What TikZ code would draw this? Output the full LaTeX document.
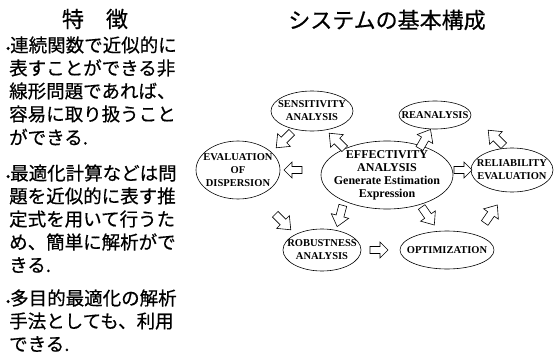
\documentclass[tikz,border=0pt]{standalone}
\usepackage{fontspec}
\setmainfont{Liberation Serif}
\newfontfamily\jp[FakeBold=0.5]{Noto Sans CJK JP}
\usetikzlibrary{shapes.geometric}
\begin{document}
\begin{tikzpicture}[x=1pt,y=1pt,
  ell/.style={draw,ellipse,line width=0.6pt,inner sep=-12pt,align=center,
    font=\bfseries\fontsize{10.5}{13}\selectfont},
  bigtext/.style={font=\bfseries\fontsize{12}{13}\selectfont},
  arrline/.style={draw,fill=white,line width=0.6pt,line join=miter},
  pics/barrow/.style={code={
    \path[arrline] (-11,-4) -- (0,-4) -- (0,-9) -- (11,0) -- (0,9) -- (0,4) -- (-11,4) -- cycle;}},
  pics/sbarrow/.style={code={
    \path[arrline] (-9,-3.5) -- (1,-3.5) -- (1,-8) -- (9,0) -- (1,8) -- (1,3.5) -- (-9,3.5) -- cycle;}},
  jpline/.style={anchor=west,inner sep=0pt,font=\jp\fontsize{18.5}{18.5}\selectfont},
  ttl/.style={inner sep=0pt,font=\jp\fontsize{22}{22}\selectfont}]
\useasboundingbox (0,0) rectangle (558,-359);
% titles
\node[ttl] (t1) at (95,-19) {特　徴};
\node[ttl] (t2) at (387,-20) {システムの基本構成};
% left text
\node[jpline] (l1) at (10,-45) {\llap{\fontsize{12}{12}\selectfont•}連続関数で近似的に};
\node[jpline] (l2) at (9,-68) {表すことができる非};
\node[jpline] (l3) at (9,-91) {線形問題であれば、};
\node[jpline] (l4) at (9,-114) {容易に取り扱うこと};
\node[jpline] (l5) at (9,-137) {ができる.};
\node[jpline] (l6) at (10,-173) {\llap{\fontsize{12}{12}\selectfont•}最適化計算などは問};
\node[jpline] (l7) at (9,-196) {題を近似的に表す推};
\node[jpline] (l8) at (9,-219) {定式を用いて行うた};
\node[jpline] (l9) at (9,-242) {め、簡単に解析がで};
\node[jpline] (l10) at (9,-265) {きる.};
\node[jpline] (l11) at (10,-298) {\llap{\fontsize{12}{12}\selectfont•}多目的最適化の解析};
\node[jpline] (l12) at (9,-321) {手法としても、利用};
\node[jpline] (l13) at (9,-344) {できる.};
% ellipses
\node[ell,minimum width=82pt,minimum height=40pt] (sens) at (312,-111) {SENSITIVITY\\ANALYSIS};
\node[ell,minimum width=72pt,minimum height=28pt] (rean) at (435,-115) {REANALYSIS};
\node[ell,bigtext,minimum width=132pt,minimum height=68pt] (eff) at (387,-175) {EFFECTIVITY\\ANALYSIS\\Generate Estimation\\Expression};
\node[ell,minimum width=84pt,minimum height=58pt] (eval) at (238,-170) {EVALUATION\\OF\\DISPERSION};
\node[ell,minimum width=82pt,minimum height=44pt] (rel) at (512,-170) {RELIABILITY\\EVALUATION};
\node[ell,minimum width=78pt,minimum height=42pt] (rob) at (322,-250) {ROBUSTNESS\\ANALYSIS};
\node[ell,minimum width=94pt,minimum height=38pt] (opt) at (447,-250) {OPTIMIZATION};
% block arrows
\pic[rotate=225] (a1) at (284,-140) {barrow};
\pic[rotate=135] (a2) at (337,-141) {barrow};
\pic[rotate=60] (a3) at (425,-139) {barrow};
\pic[rotate=135] (a4) at (496,-138) {barrow};
\pic[rotate=180] (a5) at (293,-170) {sbarrow};
\pic[rotate=0] (a6) at (463,-170) {sbarrow};
\pic[rotate=-45] (a7) at (283,-222) {barrow};
\pic[rotate=-105] (a8) at (340,-216) {barrow};
\pic[rotate=-55] (a9) at (428,-216) {barrow};
\pic[rotate=0] (a10) at (379,-250) {sbarrow};
\pic[rotate=55] (a11) at (491,-214) {barrow};
\end{tikzpicture}
\end{document}
